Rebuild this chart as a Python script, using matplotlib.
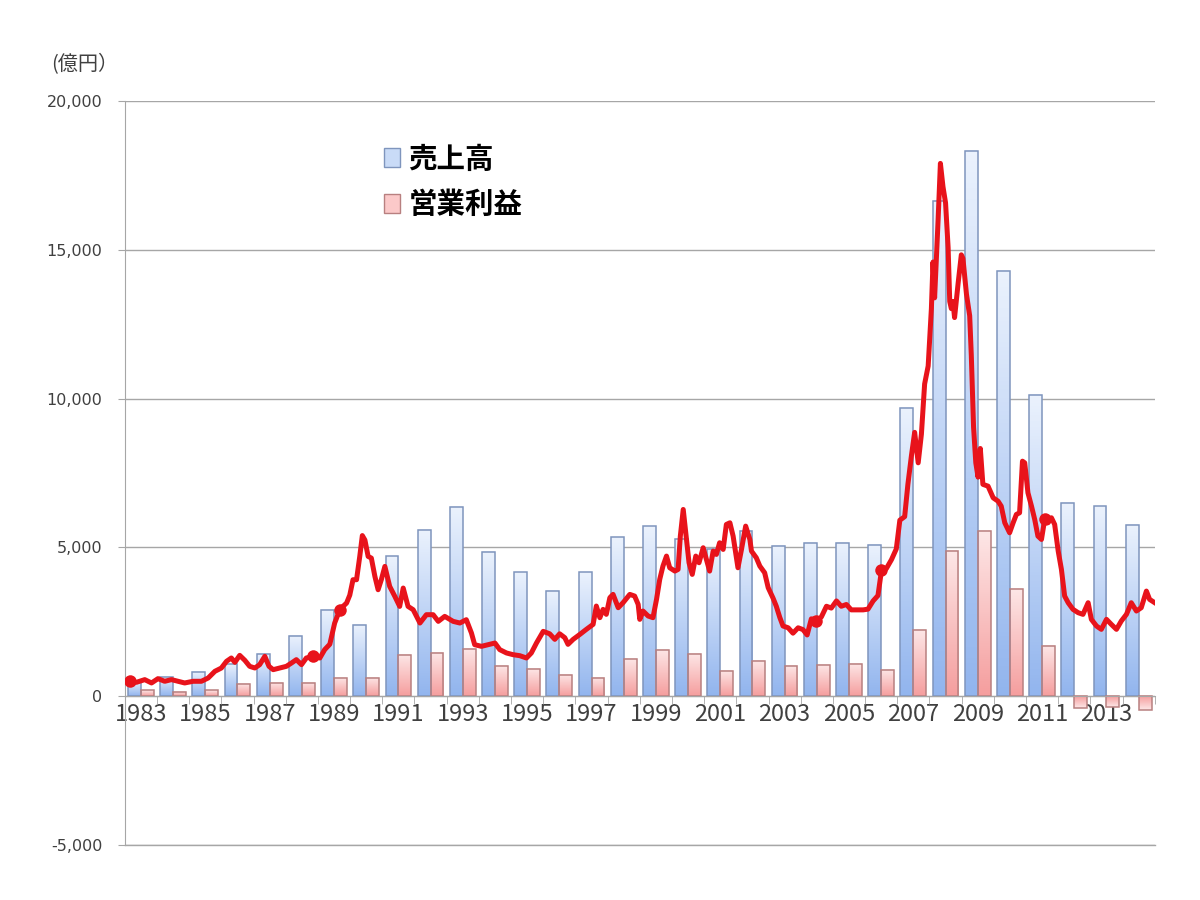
import numpy as np
import matplotlib.pyplot as plt
from matplotlib.colors import LinearSegmentedColormap
from matplotlib.patches import Patch

plt.rcParams['font.family'] = ['Noto Sans CJK JP', 'DejaVu Sans']

# 年度別データ（億円）
years = list(range(1983, 2015))
sales = [500, 650, 820, 1100, 1420, 2020, 2900, 2400, 4700, 5600, 6370, 4840,
         4160, 3530, 4160, 5340, 5710, 5290, 4950, 5560, 5060, 5160, 5150, 5100,
         9680, 16650, 18320, 14300, 10140, 6510, 6380, 5760]
profit = [200, 150, 200, 420, 450, 450, 620, 620, 1400, 1470, 1600, 1010,
          920, 710, 630, 1260, 1560, 1420, 860, 1180, 1020, 1060, 1100, 900,
          2220, 4880, 5560, 3600, 1700, -400, -350, -460]

# 折れ線（赤）: 時点と値
line_t = [1983.16, 1983.36, 1983.62, 1983.83, 1984.03, 1984.24, 1984.45, 1984.66,
          1984.86, 1985.12, 1985.38, 1985.59, 1985.80, 1986.00, 1986.16, 1986.31,
          1986.42, 1986.57, 1986.73, 1986.88, 1987.04, 1987.19, 1987.35, 1987.48,
          1987.61, 1987.82, 1988.02, 1988.18, 1988.33, 1988.49, 1988.64, 1988.85,
          1989.06, 1989.21, 1989.37, 1989.52, 1989.68, 1989.78, 1989.89, 1989.99,
          1990.09, 1990.20, 1990.30, 1990.38, 1990.46, 1990.56, 1990.66, 1990.77,
          1990.87, 1990.97, 1991.08, 1991.23, 1991.39, 1991.54, 1991.65, 1991.80,
          1991.96, 1992.17, 1992.37, 1992.58, 1992.74, 1992.94, 1993.20, 1993.41,
          1993.61, 1993.77, 1993.87, 1994.08, 1994.29, 1994.50, 1994.65, 1994.86,
          1995.06, 1995.27, 1995.48, 1995.63, 1995.79, 1996.00, 1996.20, 1996.36,
          1996.51, 1996.67, 1996.77, 1996.93, 1997.14, 1997.34, 1997.55, 1997.65,
          1997.76, 1997.86, 1997.96, 1998.07, 1998.17, 1998.33, 1998.48, 1998.69,
          1998.84, 1998.95, 1999.00, 1999.10, 1999.26, 1999.41, 1999.52, 1999.62,
          1999.72, 1999.83, 1999.93, 2000.09, 2000.19, 2000.26, 2000.35, 2000.45,
          2000.53, 2000.63, 2000.74, 2000.84, 2000.97, 2001.07, 2001.17, 2001.28,
          2001.38, 2001.48, 2001.59, 2001.69, 2001.80, 2001.90, 2002.05, 2002.16,
          2002.29, 2002.42, 2002.47, 2002.62, 2002.73, 2002.88, 2002.99, 2003.14,
          2003.24, 2003.35, 2003.45, 2003.61, 2003.76, 2003.92, 2004.07, 2004.20,
          2004.33, 2004.49, 2004.64, 2004.80, 2004.95, 2005.11, 2005.26, 2005.42,
          2005.57, 2005.73, 2005.94, 2006.09, 2006.25, 2006.40, 2006.51, 2006.66,
          2006.82, 2006.97, 2007.08, 2007.23, 2007.33, 2007.44, 2007.54, 2007.65,
          2007.75, 2007.85, 2007.96, 2008.06, 2008.11, 2008.16, 2008.21, 2008.27,
          2008.34, 2008.42, 2008.50, 2008.58, 2008.63, 2008.68, 2008.73, 2008.78,
          2008.89, 2008.99, 2009.04, 2009.15, 2009.25, 2009.30, 2009.37, 2009.44,
          2009.51, 2009.58, 2009.66, 2009.82, 2009.98, 2010.13, 2010.23, 2010.34,
          2010.49, 2010.60, 2010.70, 2010.80, 2010.89, 2010.96, 2011.06, 2011.17,
          2011.27, 2011.37, 2011.48, 2011.58, 2011.68, 2011.79, 2011.89, 2012.00,
          2012.10, 2012.20, 2012.31, 2012.46, 2012.62, 2012.77, 2012.93, 2013.03,
          2013.19, 2013.34, 2013.50, 2013.65, 2013.81, 2013.96, 2014.12, 2014.27,
          2014.43, 2014.58, 2014.74, 2014.84, 2015.00]
line_v = [504, 470, 560, 448, 593, 504, 560, 504,
          448, 504, 504, 615, 840, 950, 1175, 1287,
          1140, 1376, 1208, 1007, 951, 1063, 1343, 1007,
          895, 951, 1007, 1119, 1231, 1063, 1287, 1343,
          1287, 1567, 1750, 2460, 2910, 3021, 3133, 3400,
          3917, 3917, 4700, 5400, 5250, 4700, 4644, 4028,
          3581, 3917, 4364, 3693, 3357, 3021, 3637, 3021,
          2909, 2462, 2742, 2742, 2518, 2686, 2518, 2462,
          2574, 2126, 1734, 1679, 1734, 1790, 1567, 1455,
          1399, 1365, 1287, 1455, 1790, 2182, 2100, 1913,
          2100, 1969, 1746, 1913, 2081, 2249, 2417, 3032,
          2641, 2921, 2753, 3312, 3424, 2977, 3144, 3424,
          3368, 3088, 2585, 2865, 2697, 2641, 3256, 3928,
          4375, 4711, 4319, 4207, 4263, 5382, 6278, 5270,
          4487, 4096, 4711, 4487, 4991, 4599, 4207, 4879,
          4767, 5159, 4935, 5774, 5830, 5382, 4319, 4935,
          5718, 5270, 4879, 4655, 4375, 4151, 3648, 3300,
          3030, 2650, 2362, 2302, 2121, 2302, 2241, 2061,
          2603, 2543, 2663, 3025, 2964, 3205, 3025, 3085,
          2904, 2904, 2904, 2928, 3205, 3386, 4230, 4290,
          4591, 4953, 5917, 6037, 7122, 8086, 8869, 7845,
          8809, 10496, 11098, 13026, 14592, 13388, 14592, 16038,
          17906, 17123, 16581, 15075, 13267, 13026, 13267, 12725,
          13870, 14834, 14713, 13508, 12785, 11460, 9050, 7845,
          7363, 8327, 7122, 7061, 6669, 6557, 6389, 5830,
          5494, 5830, 6110, 6166, 7900, 7844, 6837, 6389,
          5942, 5382, 5270, 5942, 5830, 5998, 5774, 4879,
          4263, 3368, 3144, 2921, 2809, 2753, 3144, 2585,
          2361, 2249, 2585, 2417, 2249, 2529, 2753, 3144,
          2865, 2977, 3536, 3256, 3144]
# 線上の太い点
blob_t = [1983.16, 1988.85, 1989.68, 2004.49, 2006.51, 2011.58]

fig = plt.figure(figsize=(12, 9), dpi=100)
ax = fig.add_axes([0.104, 0.061, 0.8583, 0.8267])

x = np.arange(len(years))
w = 0.4
blue_cmap = LinearSegmentedColormap.from_list('blue', ['#92b5ee', '#ebf2fd'])
pink_cmap = LinearSegmentedColormap.from_list('pink', ['#f59e9e', '#fde7e7'])
grad = np.linspace(0, 1, 100).reshape(-1, 1)


def gradient_bars(xs, vals, cmap, edge):
    bars = ax.bar(xs, vals, w, facecolor='none', edgecolor=edge,
                  linewidth=1.1, zorder=3)
    for b, v in zip(bars, vals):
        x0 = b.get_x()
        g = grad if v >= 0 else grad[::-1]
        ax.imshow(g, extent=[x0, x0 + b.get_width(), min(0, v), max(0, v)],
                  origin='lower', cmap=cmap, aspect='auto', zorder=2)


gradient_bars(x - w / 2, sales, blue_cmap, '#7f95bd')
gradient_bars(x + w / 2, profit, pink_cmap, '#b88080')

lt = np.array(line_t) - 1983 - 0.5
marks = list(np.searchsorted(line_t, blob_t))
ax.plot(lt, line_v, color='#e8131b', lw=3.6, zorder=5,
        solid_joinstyle='round', marker='o', markersize=9,
        markevery=marks, markeredgewidth=0)

# 軸
ax.set_xlim(-0.5, len(years) - 0.5)
ax.set_ylim(-5000, 20000)
ax.set_yticks(range(-5000, 20001, 5000))
ax.set_yticklabels([f'{v:,}' for v in range(-5000, 20001, 5000)])
for lab in ax.get_yticklabels():
    lab.set_fontfamily('DejaVu Sans')
    lab.set_fontsize(11.5)
    lab.set_color('#404040')
ax.yaxis.grid(True, color='#a6a6a6', lw=1.0)
ax.axhline(-5000, color='#a6a6a6', lw=1.0, clip_on=False, zorder=0.5)
ax.set_axisbelow(True)
ax.tick_params(axis='y', length=5, color='#a6a6a6', pad=11)

ax.spines['top'].set_visible(False)
ax.spines['right'].set_visible(False)
ax.spines['left'].set_color('#a6a6a6')
ax.spines['bottom'].set_position(('data', 0))
ax.spines['bottom'].set_color('#a6a6a6')
ax.spines['bottom'].set_zorder(4)

ax.set_xticks(x[::2])
ax.set_xticklabels([str(y) for y in years[::2]], fontsize=17, color='#404040')
ax.set_xticks(np.arange(-0.5, len(years), 1), minor=True)
ax.tick_params(axis='x', which='major', length=0, pad=5)
ax.tick_params(axis='x', which='minor', length=6, color='#a6a6a6')

fig.text(0.043, 0.928, '(億円）', fontsize=14.5, color='#404040',
         ha='left', va='center')

handles = [Patch(facecolor='#c9dbf7', edgecolor='#7f95bd', label='売上高'),
           Patch(facecolor='#fbc9c9', edgecolor='#b88080', label='営業利益')]
ax.legend(handles=handles, loc='upper left', bbox_to_anchor=(0.252, 0.94),
          frameon=False, prop={'size': 20.5, 'weight': 'bold'},
          handlelength=0.55, handleheight=0.62, handletextpad=0.3,
          labelspacing=0.62, borderpad=0, borderaxespad=0)

fig.savefig('out.png', dpi=100, facecolor='white')
